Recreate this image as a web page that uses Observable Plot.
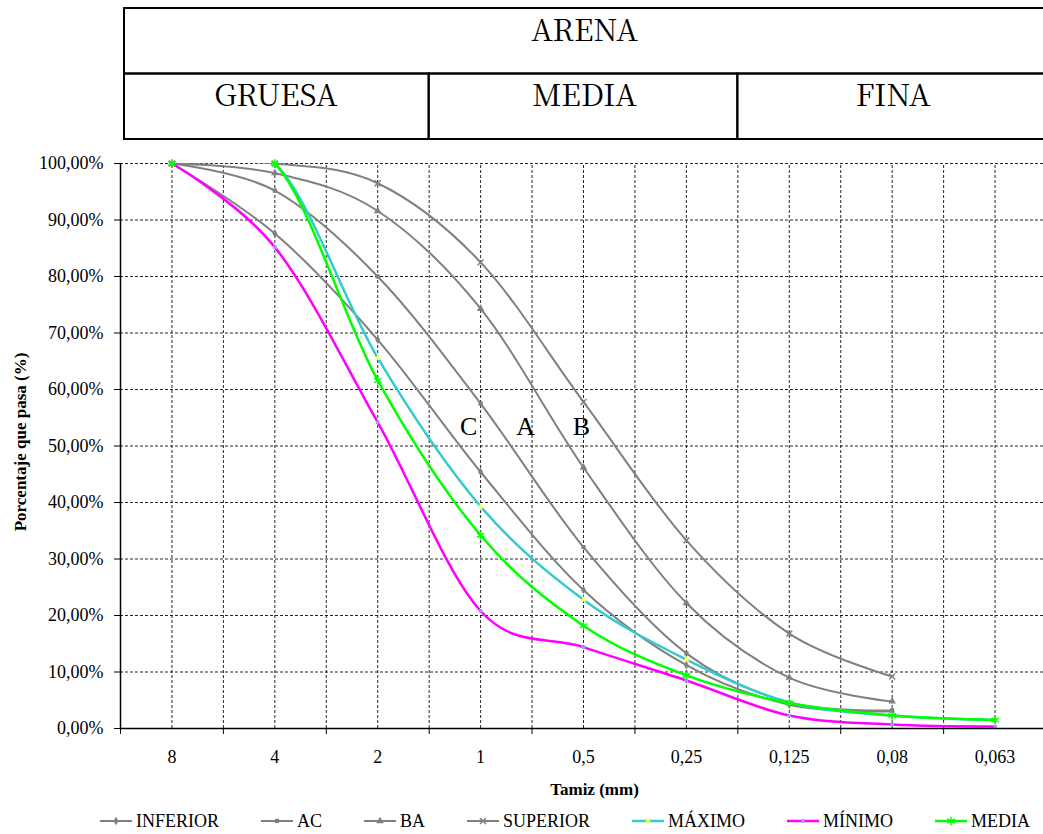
<!DOCTYPE html>
<html>
<head>
<meta charset="utf-8">
<script src="https://cdn.jsdelivr.net/npm/d3@7"></script>
<script src="https://cdn.jsdelivr.net/npm/@observablehq/plot@0.6"></script>
<style>
  html, body { margin: 0; padding: 0; background: #fff; overflow: hidden; }
  #wrap { position: relative; width: 1043px; height: 834px; overflow: hidden; background: #fff; }
  #head { position: absolute; left: 0; top: 0; }
  #chart { position: absolute; left: 0; top: 150px; }
  #legend { position: absolute; left: 100px; top: 808px; height: 26px; display: flex; align-items: center;
            font-family: 'Liberation Serif', 'Times New Roman', serif; font-size: 18px; color: #000; white-space: nowrap; }
  #legend .item { display: flex; align-items: center; margin-right: 42px; }
  #legend svg { display: block; margin-right: 4px; }
</style>
</head>
<body>
<div id="wrap">
  <div id="head"></div>
  <div id="chart"></div>
  <div id="legend"></div>
</div>
<script>
// Sieve openings (mm) along the x axis
const sieves = ["8", "4", "2", "1", "0,5", "0,25", "0,125", "0,08", "0,063"];

// Grading envelope curves (% passing)
const inferior = [100, 87.6, 68.8, 45.4, 24.5, 11.2, 4.2, 3.0];
const ac       = [100, 95.2, 80.0, 57.5, 32.1, 13.3, 4.6, 3.2];
const ba       = [100, 98.3, 91.6, 74.3, 46.2, 22.2, 9.0, 4.8];
const superior = [100, 100, 96.5, 82.5, 57.8, 33.3, 16.8, 9.2];

// Sample results (% passing)
const maximo = [100, 100, 65.6, 39.3, 22.8, 12.2, 4.6, 2.3, 1.5];
const minimo = [100, 85.2, 54.2, 20.8, 14.4, 8.5, 2.3, 0.7, 0.35];
const media  = [100, 100, 61.6, 34.2, 18.2, 9.4, 4.5, 2.3, 1.5];

// Sand classification header
const sandGroup = "ARENA";
const sandZones = ["GRUESA", "MEDIA", "FINA"];
const zoneSieves = [["8", "4", "2"], ["1", "0,5", "0,25"], ["0,125", "0,08", "0,063"]];

// Grading zone names drawn between the envelope curves
const zoneNames = ["C", "A", "B"];

const yTicks = [0, 10, 20, 30, 40, 50, 60, 70, 80, 90, 100];

const series = [
  {name: "INFERIOR", values: inferior, stroke: "#808080", width: 2,   symbol: "diamond",  mark: "#808080", r: 2.6},
  {name: "AC",       values: ac,       stroke: "#808080", width: 2,   symbol: "square",   mark: "#808080", r: 2.4},
  {name: "BA",       values: ba,       stroke: "#808080", width: 2,   symbol: "triangle", mark: "#808080", r: 2.8},
  {name: "SUPERIOR", values: superior, stroke: "#808080", width: 2,   symbol: "times",    mark: "#808080", r: 2.8},
  {name: "MÁXIMO",   values: maximo,   stroke: "#33CCCC", width: 2.5, symbol: "triangle", mark: "#FFFF66", r: 2.4},
  {name: "MÍNIMO",   values: minimo,   stroke: "#FF00FF", width: 2.5, symbol: "square",   mark: "#9999FF", r: 2.0},
  {name: "MEDIA",    values: media,    stroke: "#00FF00", width: 2.5, symbol: "asterisk", mark: "#00FF00", r: 4.0}
];
const strokeSymbols = new Set(["times", "asterisk", "plus"]);

const serif = "'Liberation Serif', 'Times New Roman', serif";
const headFont = "'Noto Serif CJK SC', 'Liberation Serif', serif";
const W = 1046, ML = 120;
const xScale = {domain: [-0.5, sieves.length - 0.5], axis: null};

// ---------- header boxes ----------
const cells = sandZones.map((z, k) => ({
  name: z,
  x1: sieves.indexOf(zoneSieves[k][0]) - 0.5,
  x2: sieves.indexOf(zoneSieves[k][zoneSieves[k].length - 1]) + 0.5,
  y1: 1, y2: 2
}));
const topCell = {name: sandGroup, x1: -0.5, x2: sieves.length - 0.5, y1: 0, y2: 1};
const boxStyle = {stroke: "#000", strokeWidth: 2, fill: "none"};

const head = Plot.plot({
  width: W, height: 150, marginTop: 8, marginBottom: 11, marginLeft: ML, marginRight: 0,
  x: xScale,
  y: {domain: [2, 0], axis: null},
  style: {background: "transparent", maxWidth: "none", overflow: "visible"},
  marks: [
    Plot.rect([topCell, cells[0]], {x1: "x1", x2: "x2", y1: "y1", y2: "y2", insetLeft: 4, ...boxStyle}),
    Plot.rect(cells.slice(1), {x1: "x1", x2: "x2", y1: "y1", y2: "y2", ...boxStyle}),
    Plot.text([topCell, ...cells], {
      x: d => (d.x1 + d.x2) / 2, y: d => (d.y1 + d.y2) / 2, text: "name",
      dx: 1, dy: -10, fontSize: 30, fill: "#000", fontFamily: headFont
    })
  ]
});
document.getElementById("head").append(head);

// ---------- main chart ----------
const grid = {stroke: "#000", strokeWidth: 1, strokeDasharray: "3,2", strokeOpacity: 0.85};
const curveMarks = [];
for (const s of series) {
  const rows = s.values.map((v, i) => ({i, v}));
  curveMarks.push(Plot.line(rows, {
    x: "i", y: "v", stroke: s.stroke, strokeWidth: s.width,
    curve: "cardinal", tension: 0, clip: true
  }));
  const isStroke = strokeSymbols.has(s.symbol);
  curveMarks.push(Plot.dot(rows, {
    x: "i", y: "v", symbol: s.symbol, r: s.r,
    fill: isStroke ? "none" : s.mark, stroke: isStroke ? s.mark : "none", strokeWidth: isStroke ? 1.5 : 0
  }));
}

const idx = sieves.map((_, i) => i);
const edges = d3.range(-0.5, sieves.length, 1);
const halfLines = d3.range(0, sieves.length, 0.5);

const chart = Plot.plot({
  width: W, height: 650, marginTop: 13, marginBottom: 72, marginLeft: ML, marginRight: 0,
  x: {...xScale, label: null},
  y: {domain: [0, 100], label: null, axis: null},
  style: {background: "transparent", maxWidth: "none", fontFamily: serif, fontSize: "18px", color: "#000", overflow: "visible"},
  marks: [
    Plot.ruleY(yTicks.filter(t => t > 0), grid),
    Plot.ruleX(halfLines, {y1: 0, y2: 100, ...grid}),
    Plot.axisY(yTicks, {
      anchor: "left", tickSize: 6, tickPadding: 11, label: null,
      tickFormat: d => d.toFixed(2).replace(".", ",") + "%", fontSize: 18
    }),
    Plot.axisX(idx, {anchor: "bottom", tickSize: 0, tickPadding: 22, label: null, tickFormat: i => sieves[i], fontSize: 18}),
    Plot.axisX(edges, {anchor: "bottom", tickSize: 6, label: null, tickFormat: () => ""}),
    ...curveMarks,
    Plot.ruleX([-0.5], {y1: 0, y2: 100, stroke: "#000", strokeWidth: 1.5}),
    Plot.ruleY([0], {stroke: "#000", strokeWidth: 1.5}),
    Plot.text([zoneNames[0]], {x: 3, y: 53.5, dx: -12, fontSize: 26, fill: "#000"}),
    Plot.text([zoneNames[1]], {x: 3, y: 53.5, dx: 45, fontSize: 26, fill: "#000"}),
    Plot.text([zoneNames[2]], {x: 4, y: 53.5, dx: -2, fontSize: 26, fill: "#000"}),
    Plot.text(["Tamiz (mm)"], {
      frameAnchor: "bottom", lineAnchor: "middle", dy: 61, dx: 11,
      fontWeight: "bold", fontSize: 17, fill: "#000"
    }),
    Plot.text(["Porcentaje que pasa (%)"], {
      frameAnchor: "left", textAnchor: "middle", lineAnchor: "middle", rotate: -90, dx: -100, dy: -4,
      fontWeight: "bold", fontSize: 17, fill: "#000"
    })
  ]
});
document.getElementById("chart").append(chart);

// ---------- legend ----------
const legend = d3.select("#legend");
const symbolMap = {
  diamond: d3.symbolDiamond, square: d3.symbolSquare, triangle: d3.symbolTriangle,
  times: d3.symbolTimes, asterisk: d3.symbolAsterisk
};
for (const s of series) {
  const item = legend.append("div").attr("class", "item");
  const svg = item.append("svg").attr("width", 32).attr("height", 12);
  svg.append("line").attr("x1", 0).attr("x2", 32).attr("y1", 6).attr("y2", 6)
    .attr("stroke", s.stroke).attr("stroke-width", s.width);
  const isStroke = strokeSymbols.has(s.symbol);
  const size = Math.PI * s.r * s.r;
  svg.append("path").attr("transform", "translate(16,6)")
    .attr("d", d3.symbol(symbolMap[s.symbol], size)())
    .attr("fill", isStroke ? "none" : s.mark)
    .attr("stroke", isStroke ? s.mark : "none")
    .attr("stroke-width", isStroke ? 1.5 : 0);
  item.append("span").text(s.name);
}
</script>
</body>
</html>
